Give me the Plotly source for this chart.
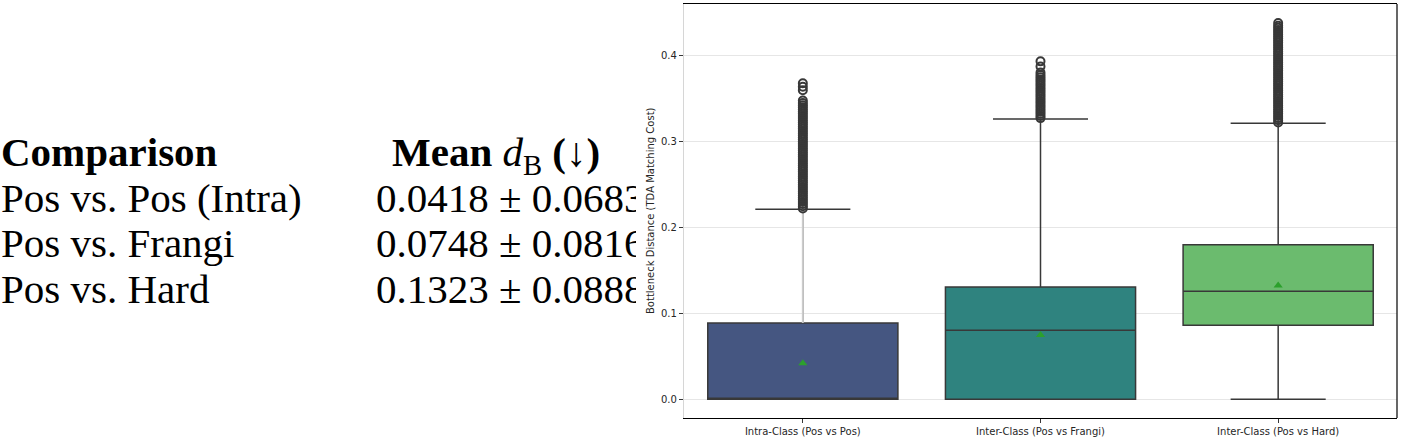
import plotly.graph_objects as go

# ---------------- data ----------------
categories = ["Intra-Class (Pos vs Pos)", "Inter-Class (Pos vs Frangi)", "Inter-Class (Pos vs Hard)"]
positions = [0, 1, 2]
q1 = [0.0, 0.0, 0.086]
median = [0.0, 0.0802, 0.1256]
q3 = [0.0887, 0.1306, 0.1798]
lower_fence = [0.0, 0.0, 0.0]
upper_fence = [0.221, 0.326, 0.321]
means = [0.0418, 0.0748, 0.1323]

outliers_intra = [0.2220, 0.2245, 0.2270, 0.2295, 0.2320, 0.2345, 0.2370, 0.2395, 0.2420, 0.2445,
                  0.2470, 0.2495, 0.2520, 0.2545, 0.2570, 0.2595, 0.2620, 0.2645, 0.2670, 0.2695,
                  0.2720, 0.2745, 0.2770, 0.2795, 0.2820, 0.2845, 0.2870, 0.2895, 0.2920, 0.2945,
                  0.2970, 0.2995, 0.3020, 0.3045, 0.3070, 0.3095, 0.3120, 0.3145, 0.3170, 0.3195,
                  0.3220, 0.3245, 0.3270, 0.3295, 0.3320, 0.3345, 0.3370, 0.3395, 0.3420, 0.3445,
                  0.3475, 0.3595, 0.3635, 0.3675]
outliers_frangi = [0.3270, 0.3295, 0.3320, 0.3345, 0.3370, 0.3395, 0.3420, 0.3445, 0.3470, 0.3495,
                   0.3520, 0.3545, 0.3570, 0.3595, 0.3620, 0.3645, 0.3670, 0.3695, 0.3720, 0.3745,
                   0.3770, 0.3800, 0.3870, 0.3930]
outliers_hard = [0.3220, 0.3245, 0.3270, 0.3295, 0.3320, 0.3345, 0.3370, 0.3395, 0.3420, 0.3445,
                 0.3470, 0.3495, 0.3520, 0.3545, 0.3570, 0.3595, 0.3620, 0.3645, 0.3670, 0.3695,
                 0.3720, 0.3745, 0.3770, 0.3795, 0.3820, 0.3845, 0.3870, 0.3895, 0.3920, 0.3945,
                 0.3970, 0.3995, 0.4020, 0.4045, 0.4070, 0.4095, 0.4120, 0.4145, 0.4170, 0.4195,
                 0.4220, 0.4245, 0.4270, 0.4295, 0.4320, 0.4345, 0.4375]
outliers = [outliers_intra, outliers_frangi, outliers_hard]

box_colors = ["#455681", "#2f837f", "#6bbb6e"]
upper_whisker_colors = ["#cccccc", None, None]

y_ticks = [0.0, 0.1, 0.2, 0.3, 0.4]
y_title = "Bottleneck Distance (TDA Matching Cost)"

table_header_left = "Comparison"
table_header_right = "<b>Mean </b><i>d</i><sub>B</sub><b> (↓)</b>"
table_rows = ["Pos vs. Pos (Intra)", "Pos vs. Frangi", "Pos vs. Hard"]
table_means = [0.0418, 0.0748, 0.1323]
table_stds = [0.0683, 0.0816, 0.0888]

# ---------------- layout constants ----------------
W, H = 1407, 447
ax_left, ax_right, ax_top, ax_bottom = 684, 1397, 4, 418
table_clip = 636
line_col = "#383838"

fig = go.Figure()

# boxes
for i, cat in enumerate(categories):
    fig.add_trace(go.Box(
        x=[positions[i]], q1=[q1[i]], median=[median[i]], q3=[q3[i]],
        lowerfence=[lower_fence[i]], upperfence=[upper_fence[i]],
        width=0.8, whiskerwidth=0.5, fillcolor=box_colors[i],
        line=dict(color=line_col, width=1.5), boxpoints=False,
        showlegend=False, hoverinfo="skip", xaxis="x", yaxis="y"))

# lighter upper whisker where the reference shows it
for i, c in enumerate(upper_whisker_colors):
    if c:
        fig.add_trace(go.Scatter(
            x=[positions[i], positions[i]], y=[q3[i], upper_fence[i]], mode="lines",
            line=dict(color=c, width=2), showlegend=False, hoverinfo="skip",
            xaxis="x", yaxis="y"))

# outliers
for i, vals in enumerate(outliers):
    fig.add_trace(go.Scatter(
        x=[positions[i]] * len(vals), y=vals, mode="markers",
        marker=dict(symbol="circle-open", size=8, color=line_col, line=dict(width=2, color=line_col)),
        showlegend=False, hoverinfo="skip", xaxis="x", yaxis="y"))

# means
fig.add_trace(go.Scatter(
    x=positions, y=means, mode="markers",
    marker=dict(symbol="triangle-up", size=8, color="#2ca02c"),
    showlegend=False, hoverinfo="skip", xaxis="x", yaxis="y"))

# table (text trace clipped by its own subplot)
tab_font = dict(family="Liberation Serif", size=41, color="black")
header_y = 156
row_y = [202, 247, 293]
fig.add_trace(go.Scatter(
    x=[1, 392], y=[header_y, header_y], mode="text",
    text=["<b>" + table_header_left + "</b>", table_header_right],
    textposition="middle right", textfont=tab_font, cliponaxis=True,
    showlegend=False, hoverinfo="skip", xaxis="x2", yaxis="y2"))
fig.add_trace(go.Scatter(
    x=[1] * len(table_rows), y=row_y, mode="text", text=table_rows,
    textposition="middle right", textfont=tab_font, cliponaxis=True,
    showlegend=False, hoverinfo="skip", xaxis="x2", yaxis="y2"))
fig.add_trace(go.Scatter(
    x=[376] * len(table_rows), y=row_y, mode="text",
    text=[f"{m:.4f} ± {s:.4f}" for m, s in zip(table_means, table_stds)],
    textposition="middle right", textfont=tab_font, cliponaxis=True,
    showlegend=False, hoverinfo="skip", xaxis="x2", yaxis="y2"))

tick_font = dict(family="DejaVu Sans", size=10, color="#262626")

fig.update_layout(
    width=W, height=H, margin=dict(l=0, r=0, t=0, b=0),
    paper_bgcolor="white", plot_bgcolor="white",
    xaxis=dict(domain=[ax_left / W, ax_right / W], range=[-0.5, 2.5],
               tickmode="array", tickvals=positions, ticktext=categories,
               ticks="outside", ticklen=4, tickcolor=line_col, tickfont=tick_font,
               showgrid=False, zeroline=False, showline=True, linecolor="black",
               linewidth=1.2, mirror=True, anchor="y"),
    yaxis=dict(domain=[(H - ax_bottom) / H, (H - ax_top) / H], range=[-0.0218, 0.4597],
               tickmode="array", tickvals=y_ticks, tickformat=".1f",
               ticks="outside", ticklen=4, tickcolor=line_col, tickfont=tick_font,
               showgrid=True, gridcolor="#e6e6e6", gridwidth=1, zeroline=False,
               showline=True, linecolor="#d6d6d6", linewidth=1.2, anchor="x"),
    xaxis2=dict(domain=[0, table_clip / W], range=[0, table_clip], visible=False, anchor="y2"),
    yaxis2=dict(domain=[0, 1], range=[H, 0], visible=False, anchor="x2"),
    shapes=[dict(type="line", xref="x domain", yref="y domain", x0=1, x1=1, y0=0, y1=1,
                 line=dict(color="black", width=1.2))],
    annotations=[dict(text=y_title, textangle=-90, xref="paper", yref="paper",
                      x=650 / W, y=(H - (ax_top + ax_bottom) / 2) / H,
                      xanchor="center", yanchor="middle", showarrow=False,
                      font=dict(family="DejaVu Sans", size=10, color="#262626"))],
)

fig.write_html("out.html")
